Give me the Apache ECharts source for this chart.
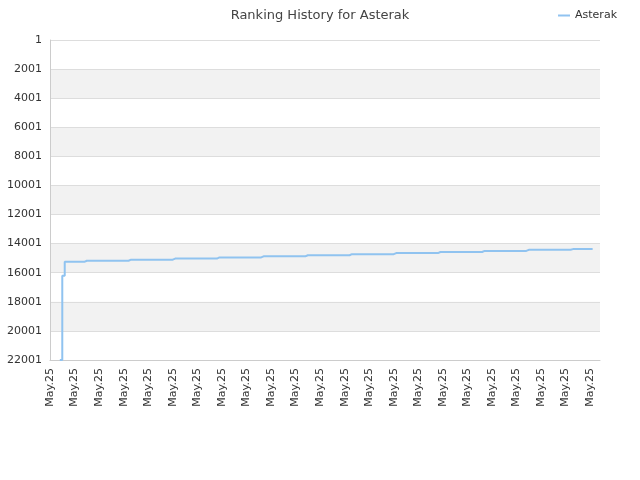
<!DOCTYPE html>
<html><head><meta charset="utf-8">
<script src="https://cdn.jsdelivr.net/npm/echarts@6/dist/echarts.min.js"></script>
<style>html,body{margin:0;padding:0;background:#fff}#c{width:640px;height:480px}</style>
</head><body><div id="c"></div>
<script>
const categories = Array(225).fill('May.25');
const changeIdx = [4, 5, 6, 14, 32, 50, 68, 86, 104, 122, 140, 158, 176, 194, 212, 221];
const rankVals  = [22001, 16201, 15251, 15176, 15101, 15026, 14951, 14876, 14801, 14726, 14651, 14576, 14501, 14426, 14376, null];
const yTicks = [1, 2001, 4001, 6001, 8001, 10001, 12001, 14001, 16001, 18001, 20001, 22001];
// step series: hold each read value until the next change point
const data = categories.map((c, i) => {
  let v = null;
  for (let k = 0; k < changeIdx.length; k++) if (i >= changeIdx[k]) v = rankVals[k];
  return v;
});
const chart = echarts.init(document.getElementById('c'));
chart.setOption({
  animation: false,
  title: {text: 'Ranking History for Asterak', left: 'center', top: 4,
    textStyle: {fontSize: 13, fontWeight: 'normal', color: '#444', fontFamily: 'DejaVu Sans'}},
  legend: {right: 18, top: 5, itemWidth: 12, itemHeight: 2, icon: 'rect',
    textStyle: {fontSize: 11, color: '#333', fontFamily: 'DejaVu Sans'}, data: ['Asterak']},
  grid: {left: 50, right: 40, top: 40, bottom: 120},
  xAxis: {type: 'category', data: categories, boundaryGap: false,
    axisLine: {lineStyle: {color: '#ccc'}}, axisTick: {show: false},
    axisLabel: {interval: 9, rotate: 90, color: '#333', fontSize: 11, fontFamily: 'DejaVu Sans'},
    splitLine: {show: false}},
  yAxis: {type: 'value', inverse: true, min: 1, max: 22001, interval: 2000,
    axisLine: {show: true, lineStyle: {color: '#ccc'}}, axisTick: {show: false},
    axisLabel: {color: '#333', fontSize: 11, fontFamily: 'DejaVu Sans', formatter: v => yTicks.includes(v) ? String(v) : ''},
    splitLine: {lineStyle: {color: '#ddd'}},
    splitArea: {show: true, areaStyle: {color: ['#ffffff', '#f2f2f2']}}},
  series: [{name: 'Asterak', type: 'line', step: 'end', data: data, showSymbol: false,
    lineStyle: {color: '#90c3f0', width: 2}, itemStyle: {color: '#90c3f0'}}]
});
</script></body></html>
